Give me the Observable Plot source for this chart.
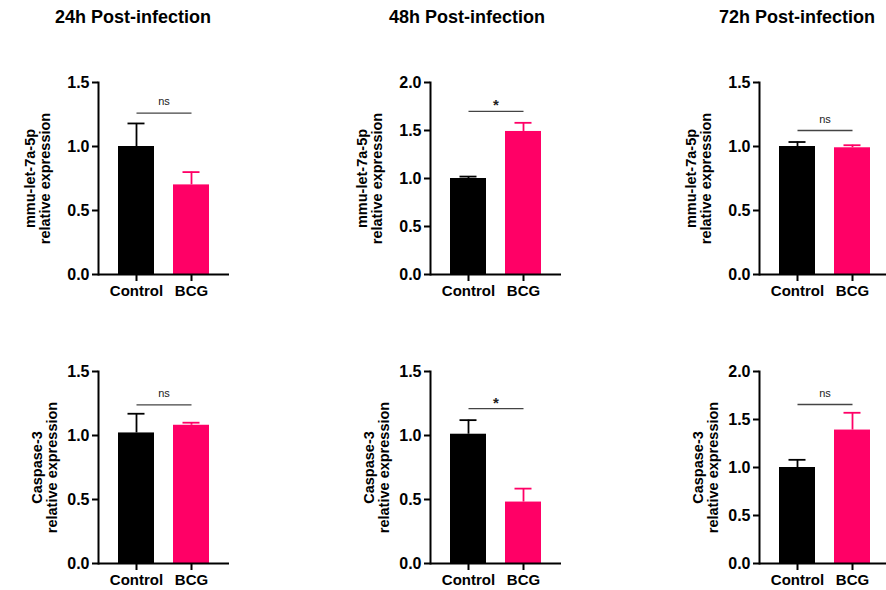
<!DOCTYPE html>
<html><head><meta charset="utf-8">
<script src="https://cdn.jsdelivr.net/npm/d3@7"></script>
<script src="https://cdn.jsdelivr.net/npm/@observablehq/plot@0.6"></script>
<style>
body{margin:0;background:#fff;overflow:hidden;}
#wrap{position:relative;width:886px;height:590px;overflow:hidden;font-family:"Liberation Sans",Arial,sans-serif;color:#000;}
.title{position:absolute;font-weight:bold;font-size:18px;transform:translate(-50%,-50%);white-space:nowrap;}
.panel{position:absolute;}
</style></head><body><div id="wrap"></div>
<script>
// ---- data ----
const groups = ["Control", "BCG"];
const groupColors = ["#000000", "#FF0066"];
const timepoints = ["24h Post-infection", "48h Post-infection", "72h Post-infection"];
const yLabels = ["mmu-let-7a-5p\nrelative expression", "Caspase-3\nrelative expression"];

// mmu-let-7a-5p (row 1): [Control, BCG] per timepoint
const mirMeans  = [[1.00, 0.70], [1.00, 1.49], [1.00, 0.99]];
const mirErrors = [[0.18, 0.10], [0.02, 0.09], [0.035, 0.02]];
const mirYMax   = [1.5, 2.0, 1.5];
const mirSig    = ["ns", "*", "ns"];
const mirSigY   = [1.26, 1.70, 1.125];

// Caspase-3 (row 2)
const casMeans  = [[1.02, 1.08], [1.01, 0.48], [1.00, 1.39]];
const casErrors = [[0.15, 0.02], [0.11, 0.105], [0.08, 0.18]];
const casYMax   = [1.5, 1.5, 2.0];
const casSig    = ["ns", "*", "ns"];
const casSigY   = [1.24, 1.21, 1.656];

const yTicks15 = [0, 0.5, 1.0, 1.5];
const yTicks20 = [0, 0.5, 1.0, 1.5, 2.0];

// ---- layout ----
const wrap = document.getElementById("wrap");
const colAxisX = [98, 430, 759];
const rowTopY = [82, 371];
const titleX = [133, 467, 797];
const titleY = 17;
const mL = 90, mR = 10, mT = 10, mB = 32, plotW = 131, plotH = 192;
const labelDx = [-61, -54];

timepoints.forEach((t, c) => {
  const d = document.createElement("div");
  d.className = "title";
  d.textContent = t;
  d.style.left = titleX[c] + "px";
  d.style.top = titleY + "px";
  wrap.appendChild(d);
});

const rows = [
  {means: mirMeans, errs: mirErrors, ymax: mirYMax, sig: mirSig, sigY: mirSigY, label: yLabels[0]},
  {means: casMeans, errs: casErrors, ymax: casYMax, sig: casSig, sigY: casSigY, label: yLabels[1]}
];

rows.forEach((row, r) => {
  for (let c = 0; c < 3; c++) {
    const data = groups.map((g, i) => ({group: g, mean: row.means[c][i], err: row.errs[c][i], top: row.means[c][i] + row.errs[c][i]}));
    const ymax = row.ymax[c];
    const isStar = row.sig[c] === "*";
    const chart = Plot.plot({
      width: mL + plotW + mR,
      height: mT + plotH + mB,
      marginLeft: mL, marginRight: mR, marginTop: mT, marginBottom: mB,
      style: {fontFamily: "Liberation Sans, Arial, sans-serif", color: "#000", background: "transparent", overflow: "visible"},
      x: {domain: groups, paddingInner: 0.345, paddingOuter: 0.363, label: null},
      y: {domain: [0, ymax], label: null},
      color: {domain: groups, range: groupColors},
      marks: [
        Plot.barY(data, {x: "group", y: "mean", fill: "group"}),
        Plot.ruleX(data, {x: "group", y1: "mean", y2: "top", stroke: "group", strokeWidth: 1.8}),
        Plot.tickY(data, {x: "group", y: "top", stroke: "group", strokeWidth: 1.8, insetLeft: 9.5, insetRight: 9.5}),
        Plot.link([row.sigY[c]], {x1: () => groups[0], x2: () => groups[1], y1: d => d, y2: d => d, stroke: "#444", strokeWidth: 1.3}),
        Plot.text([row.sig[c]], {text: d => d, y: () => row.sigY[c], frameAnchor: "middle", lineAnchor: "bottom",
          dy: isStar ? -1 : -8, fontSize: isStar ? 15 : 11, fontWeight: isStar ? "bold" : "normal", fill: "#222"}),
        Plot.axisY({ticks: ymax === 2 ? yTicks20 : yTicks15, tickFormat: ".1f", tickSize: 6, tickPadding: 3, strokeWidth: 2, fontSize: 16, fontWeight: "bold", label: null}),
        Plot.axisX({tickSize: 7, tickPadding: 4, strokeWidth: 2, fontSize: 15, fontWeight: "bold", label: null}),
        Plot.frame({anchor: "left", strokeWidth: 2}),
        Plot.ruleY([0], {strokeWidth: 2}),
        Plot.text([row.label], {text: d => d, frameAnchor: "left", rotate: -90, dx: labelDx[r], textAnchor: "middle", lineAnchor: "middle", lineHeight: 1.07, fontSize: 14.5, fontWeight: "bold"})
      ]
    });
    chart.classList.add("panel");
    chart.style.left = (colAxisX[c] - mL) + "px";
    chart.style.top = (rowTopY[r] - mT) + "px";
    wrap.appendChild(chart);
  }
});
</script>
</body></html>
